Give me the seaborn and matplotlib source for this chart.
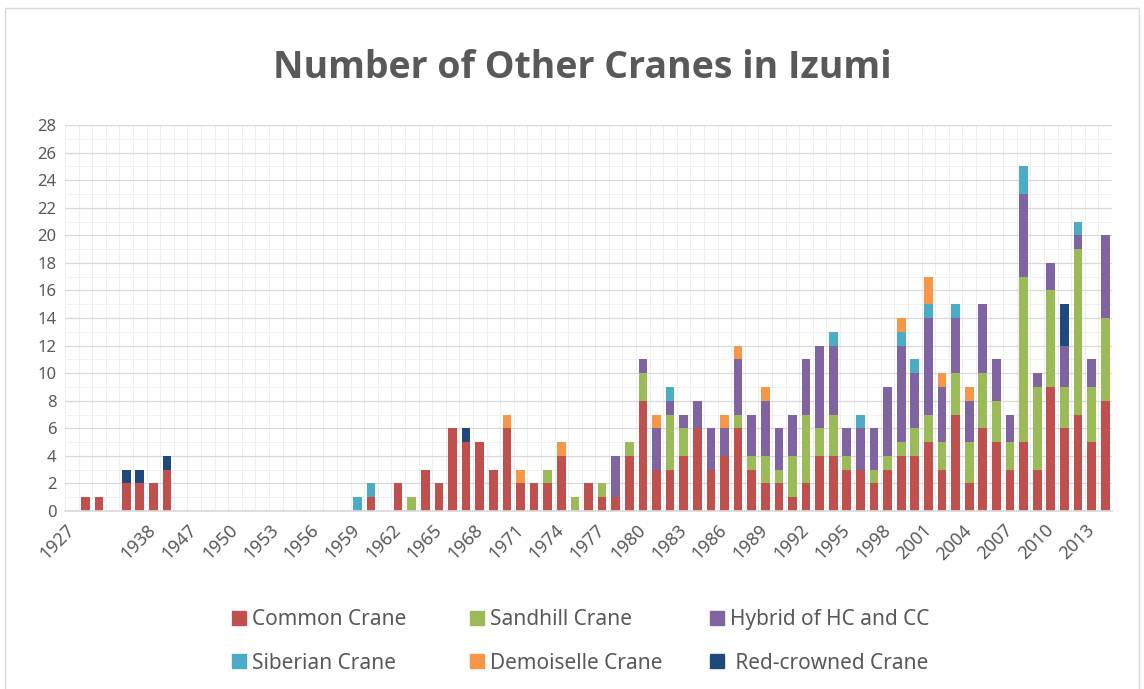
import numpy as np
import pandas as pd
import matplotlib
matplotlib.use("Agg")
import matplotlib.pyplot as plt
from matplotlib.patches import Patch, Rectangle
import seaborn as sns

# categories (the x axis skips 1941-1946; one early label is blank)
years = ["1927", "1928", "1929", "", "1936", "1937", "1938", "1939", "1940",
         "1947", "1948", "1949", "1950", "1951", "1952", "1953", "1954", "1955", "1956", "1957", "1958",
         "1959", "1960", "1961", "1962", "1963", "1964", "1965", "1966", "1967", "1968",
         "1969", "1970", "1971", "1972", "1973", "1974", "1975", "1976", "1977", "1978",
         "1979", "1980", "1981", "1982", "1983", "1984", "1985", "1986", "1987", "1988",
         "1989", "1990", "1991", "1992", "1993", "1994", "1995", "1996", "1997", "1998",
         "1999", "2000", "2001", "2002", "2003", "2004", "2005", "2006", "2007", "2008",
         "2009", "2010", "2011", "2012", "2013", "2014"]

#            1927 ... 1940            | 1947 ... 1958
common =     [0, 1, 1, 0, 2, 2, 2, 3, 0,  0, 0, 0, 0, 0, 0, 0, 0, 0, 0, 0, 0,
              0, 1, 0, 2, 0, 3, 2, 6, 5, 5,
              3, 6, 2, 2, 2, 4, 0, 2, 1, 1,
              4, 8, 3, 3, 4, 6, 3, 4, 6, 3,
              2, 2, 1, 2, 4, 4, 3, 3, 2, 3,
              4, 4, 5, 3, 7, 2, 6, 5, 3, 5,
              3, 9, 6, 7, 5, 8]
sandhill =   [0, 0, 0, 0, 0, 0, 0, 0, 0,  0, 0, 0, 0, 0, 0, 0, 0, 0, 0, 0, 0,
              0, 0, 0, 0, 1, 0, 0, 0, 0, 0,
              0, 0, 0, 0, 1, 0, 1, 0, 1, 0,
              1, 2, 0, 4, 2, 0, 0, 0, 1, 1,
              2, 1, 3, 5, 2, 3, 1, 0, 1, 1,
              1, 2, 2, 2, 3, 3, 4, 3, 2, 12,
              6, 7, 3, 12, 4, 6]
hybrid =     [0, 0, 0, 0, 0, 0, 0, 0, 0,  0, 0, 0, 0, 0, 0, 0, 0, 0, 0, 0, 0,
              0, 0, 0, 0, 0, 0, 0, 0, 0, 0,
              0, 0, 0, 0, 0, 0, 0, 0, 0, 3,
              0, 1, 3, 1, 1, 2, 3, 2, 4, 3,
              4, 3, 3, 4, 6, 5, 2, 3, 3, 5,
              7, 4, 7, 4, 4, 3, 5, 3, 2, 6,
              1, 2, 3, 1, 2, 6]
siberian =   [0, 0, 0, 0, 0, 0, 0, 0, 0,  0, 0, 0, 0, 0, 0, 0, 0, 0, 0, 0, 0,
              1, 1, 0, 0, 0, 0, 0, 0, 0, 0,
              0, 0, 0, 0, 0, 0, 0, 0, 0, 0,
              0, 0, 0, 1, 0, 0, 0, 0, 0, 0,
              0, 0, 0, 0, 0, 1, 0, 1, 0, 0,
              1, 1, 1, 0, 1, 0, 0, 0, 0, 2,
              0, 0, 0, 1, 0, 0]
demoiselle = [0, 0, 0, 0, 0, 0, 0, 0, 0,  0, 0, 0, 0, 0, 0, 0, 0, 0, 0, 0, 0,
              0, 0, 0, 0, 0, 0, 0, 0, 0, 0,
              0, 1, 1, 0, 0, 1, 0, 0, 0, 0,
              0, 0, 1, 0, 0, 0, 0, 1, 1, 0,
              1, 0, 0, 0, 0, 0, 0, 0, 0, 0,
              1, 0, 2, 1, 0, 1, 0, 0, 0, 0,
              0, 0, 0, 0, 0, 0]
redcrowned = [0, 0, 0, 0, 1, 1, 0, 1, 0,  0, 0, 0, 0, 0, 0, 0, 0, 0, 0, 0, 0,
              0, 0, 0, 0, 0, 0, 0, 0, 1, 0,
              0, 0, 0, 0, 0, 0, 0, 0, 0, 0,
              0, 0, 0, 0, 0, 0, 0, 0, 0, 0,
              0, 0, 0, 0, 0, 0, 0, 0, 0, 0,
              0, 0, 0, 0, 0, 0, 0, 0, 0, 0,
              0, 0, 3, 0, 0, 0]

species = ["Common Crane", "Sandhill Crane", "Hybrid of HC and CC",
           "Siberian Crane", "Demoiselle Crane", "Red-crowned Crane"]
colors = ["#C0504D", "#9BBB59", "#8064A2", "#4BACC6", "#F79646", "#1F497D"]
legend_labels = ["Common Crane", "Sandhill Crane", "Hybrid of HC and CC",
                 "Siberian Crane", "Demoiselle Crane", " Red-crowned Crane"]

GREY = "#595959"
W, H = 1144, 689


def CranesLong():
    rows = []
    for name, vals in zip(species, [common, sandhill, hybrid, siberian, demoiselle, redcrowned]):
        for pos, v in enumerate(vals):
            rows.append((pos, name, v))
    return pd.DataFrame(rows, columns=["pos", "species", "count"])


def CranesChart():
    df = CranesLong()

    sns.set_theme(style="white")
    plt.rcParams["font.family"] = ["Noto Sans", "DejaVu Sans"]

    fig = plt.figure(figsize=(W / 100, H / 100), dpi=100)
    ax = fig.add_axes([65 / W, 1 - 511 / H, (1112 - 65) / W, (511 - 125) / H])

    # seaborn stacks the last hue level at the bottom
    sns.histplot(data=df, x="pos", weights="count", hue="species",
                 hue_order=species[::-1], palette=dict(zip(species, colors)),
                 multiple="stack", discrete=True, shrink=0.64, alpha=1,
                 linewidth=0, legend=False, ax=ax)

    n = len(years)
    ax.set_xlim(-0.5, n - 0.5)
    ax.set_ylim(0, 28)
    ax.set_yticks(range(0, 29, 2))
    ax.set_yticks(range(1, 28, 2), minor=True)
    ax.set_xticks(range(0, n, 3))
    ax.set_xticklabels(years[::3], rotation=45, ha="right", va="center",
                       rotation_mode="anchor", fontsize=13, color=GREY)
    ax.set_xticks(np.arange(-0.5, n, 1), minor=True)
    ax.tick_params(axis="y", labelsize=12, labelcolor=GREY, pad=6)
    ax.tick_params(axis="x", pad=12)
    ax.tick_params(which="both", length=0)
    ax.set_xlabel("")
    ax.set_ylabel("")

    ax.set_axisbelow(True)
    ax.grid(axis="y", which="major", color="#D9D9D9", lw=0.9)
    ax.grid(axis="y", which="minor", color="#EFEFEF", lw=0.6)
    ax.grid(axis="x", which="minor", color="#ECECEC", lw=0.6)
    for s in ["top", "right", "left"]:
        ax.spines[s].set_visible(False)
    ax.spines["bottom"].set_color("#D9D9D9")

    fig.text(0.509, 1 - 68 / H, "Number of Other Cranes in Izumi", ha="center", va="center",
             fontsize=27, fontweight="bold", family=["Open Sans", "DejaVu Sans"], color=GREY)

    # Excel spaces the legend columns evenly: one small legend per column
    col_x = [232, 470, 710]
    for c, x in enumerate(col_x):
        idx = [c, c + 3]
        fig.legend([Patch(color=colors[i]) for i in idx], [legend_labels[i] for i in idx],
                   loc="center left", bbox_to_anchor=(x / W, 1 - 641.5 / H),
                   frameon=False, fontsize=15, labelcolor=GREY,
                   handlelength=0.65, handleheight=0.65, handletextpad=0.3,
                   labelspacing=1.08, borderpad=0, borderaxespad=0)

    fig.add_artist(Rectangle((5 / W, -0.01), (1139 - 5) / W, 1.01 - 8 / H, fill=False,
                             edgecolor="#D9D9D9", lw=1, transform=fig.transFigure))

    plt.savefig("out.png", dpi=100)
    plt.close()


CranesChart()
